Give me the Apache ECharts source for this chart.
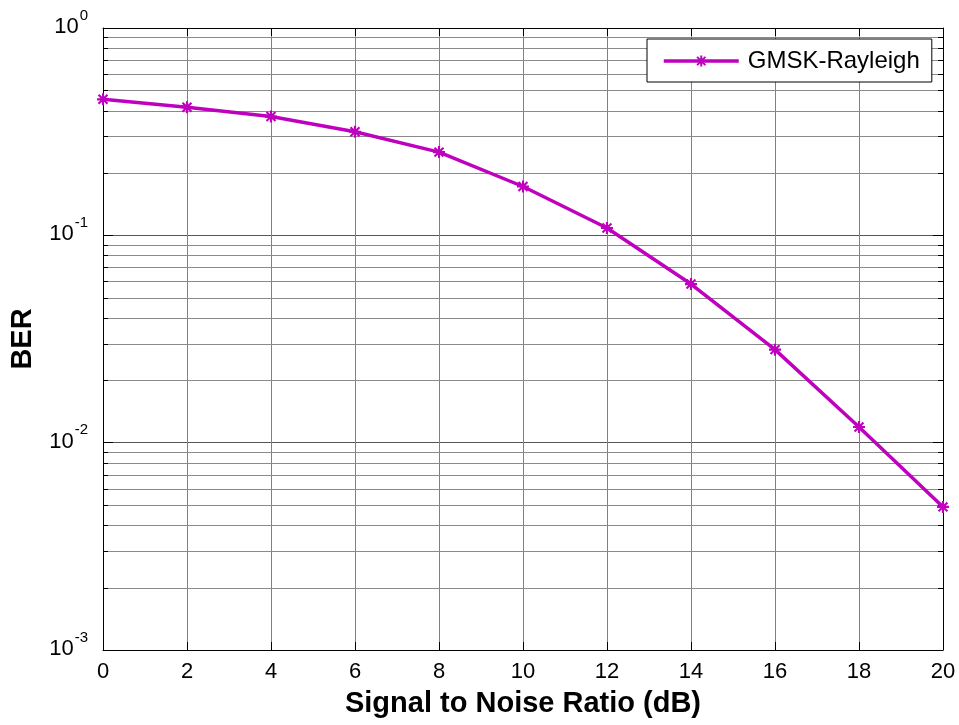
<!DOCTYPE html>
<html>
<head>
<meta charset="utf-8">
<script src="https://cdn.jsdelivr.net/npm/echarts@6/dist/echarts.min.js"></script>
<style>
html,body{margin:0;padding:0;background:#fff;}
#c{width:959px;height:725px;}
</style>
</head>
<body>
<div id="c"></div>
<script>
// ---- data ----
var snr = [0, 2, 4, 6, 8, 10, 12, 14, 16, 18, 20];
var ber = [0.453, 0.415, 0.374, 0.316, 0.252, 0.172, 0.1085, 0.0582, 0.0281, 0.0119, 0.0049];
var seriesName = 'GMSK-Rayleigh';
var xTitle = 'Signal to Noise Ratio (dB)';
var yTitle = 'BER';
var yMin = 0.001, yMax = 1;
var minorMultipliers = [2, 3, 4, 5, 6, 7, 8, 9];
var decades = [0.001, 0.01, 0.1];

var minorVals = [];
decades.forEach(function (d) {
  minorMultipliers.forEach(function (m) { minorVals.push([0, m * d]); });
});

var FONT = 'Arial, "Liberation Sans", Helvetica, sans-serif';
var LINE_COLOR = '#BF00BF';

var starPath = 'path://M8.2 0 L11.8 0 L11.8 20 L8.2 20 Z M0 8.2 L20 8.2 L20 11.8 L0 11.8 Z ' +
  'M1.3 3.8 L3.8 1.3 L18.7 16.2 L16.2 18.7 Z M16.2 1.3 L18.7 3.8 L3.8 18.7 L1.3 16.2 Z';

var chart = echarts.init(document.getElementById('c'), null, {renderer: 'canvas'});

function expLabel(v) {
  var e = Math.round(Math.log10(v));
  return '{h|\u200b}{b|10}{s|' + e + '}';
}

var option = {
  backgroundColor: '#fff',
  animation: false,
  grid: {left: 103, right: 16, top: 28, bottom: 75, containLabel: false},
  legend: {
    data: [seriesName],
    left: 647, top: 39,
    orient: 'horizontal',
    backgroundColor: '#fff',
    borderColor: '#000', borderWidth: 1, borderRadius: 0,
    padding: [10, 12, 9, 15],
    itemWidth: 75, itemHeight: 14,
    lineStyle: {width: 3.5, color: LINE_COLOR},
    textStyle: {fontFamily: FONT, fontSize: 24, color: '#000', padding: [0, 0, 0, 4]}
  },
  xAxis: [{
    type: 'value', min: 0, max: 20, interval: 2,
    position: 'bottom',
    axisLine: {show: true, onZero: false, lineStyle: {color: '#000', width: 1}},
    axisTick: {show: true, inside: true, length: 8, lineStyle: {color: '#000'}},
    axisLabel: {fontFamily: FONT, fontSize: 22, color: '#000', margin: 11},
    splitLine: {show: true, lineStyle: {color: '#808080', width: 1}},
    name: xTitle, nameLocation: 'middle', nameGap: 39,
    nameTextStyle: {fontFamily: FONT, fontSize: 29, fontWeight: 'bold', color: '#000'}
  }, {
    type: 'value', min: 0, max: 20, interval: 2,
    position: 'top',
    axisLine: {show: true, onZero: false, lineStyle: {color: '#000', width: 1}},
    axisTick: {show: true, inside: true, length: 8, lineStyle: {color: '#000'}},
    axisLabel: {show: false},
    splitLine: {show: false}
  }],
  yAxis: [{
    type: 'log', logBase: 10, min: yMin, max: yMax,
    position: 'left',
    axisLine: {show: true, onZero: false, lineStyle: {color: '#000', width: 1}},
    axisTick: {show: true, inside: true, length: 10, lineStyle: {color: '#000'}},
    axisLabel: {
      formatter: expLabel, margin: 15, padding: [0, 0, 10, 0],
      rich: {
        h: {fontFamily: FONT, fontSize: 10, lineHeight: 30, color: '#000'},
        b: {fontFamily: FONT, fontSize: 22, lineHeight: 22, color: '#000', verticalAlign: 'bottom'},
        s: {fontFamily: FONT, fontSize: 15, lineHeight: 15, color: '#000', verticalAlign: 'top', padding: [0, 0, 0, 1]}
      }
    },
    splitLine: {show: true, lineStyle: {color: '#555', width: 1}},
    name: yTitle, nameLocation: 'middle', nameGap: 66, nameRotate: 90,
    nameTextStyle: {fontFamily: FONT, fontSize: 29, fontWeight: 'bold', color: '#000'}
  }, {
    type: 'log', logBase: 10, min: yMin, max: yMax,
    position: 'right',
    axisLine: {show: true, onZero: false, lineStyle: {color: '#000', width: 1}},
    axisTick: {show: true, inside: true, length: 10, lineStyle: {color: '#000'}},
    axisLabel: {show: false},
    splitLine: {show: false}
  }],
  series: [{
    type: 'custom',
    name: 'minor',
    xAxisIndex: 0, yAxisIndex: 0,
    z: 1,
    silent: true,
    clip: false,
    data: minorVals,
    renderItem: function (params, api) {
      var cs = params.coordSys;
      var p = api.coord([0, api.value(1)]);
      var y = Math.round(p[1]) + 0.5;
      var x0 = cs.x, x1 = cs.x + cs.width;
      return {
        type: 'group',
        children: [
          {type: 'line', shape: {x1: x0, y1: y, x2: x1, y2: y}, style: {stroke: '#8a8a8a', lineWidth: 1}},
          {type: 'line', shape: {x1: x0, y1: y, x2: x0 + 5, y2: y}, style: {stroke: '#000', lineWidth: 1}},
          {type: 'line', shape: {x1: x1 - 5, y1: y, x2: x1, y2: y}, style: {stroke: '#000', lineWidth: 1}}
        ]
      };
    }
  }, {
    type: 'line',
    name: seriesName,
    xAxisIndex: 0, yAxisIndex: 0,
    z: 5,
    data: snr.map(function (x, i) { return [x, ber[i]]; }),
    symbol: starPath,
    symbolSize: 12,
    showAllSymbol: true,
    clip: false,
    lineStyle: {color: LINE_COLOR, width: 3.5},
    itemStyle: {color: LINE_COLOR, borderWidth: 0}
  }]
};
chart.setOption(option);
</script>
</body>
</html>
